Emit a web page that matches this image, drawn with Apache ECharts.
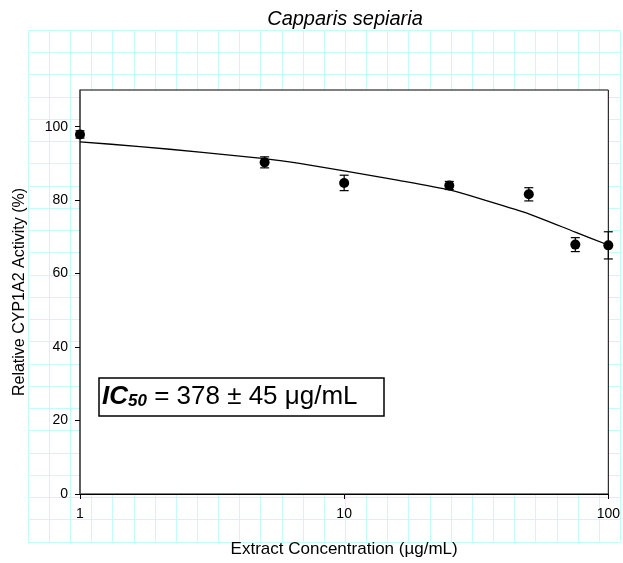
<!DOCTYPE html>
<html>
<head>
<meta charset="utf-8">
<script src="https://cdn.jsdelivr.net/npm/echarts@6/dist/echarts.min.js"></script>
<style>html,body{margin:0;padding:0;background:#fff}#c{width:623px;height:563px}</style>
</head>
<body>
<div id="c"></div>
<script>
// Measured data (concentration in µg/mL, activity in %)
var concentrations = [1, 5, 10, 25, 50, 75, 100];
var activity = [97.9, 90.3, 84.7, 84.0, 81.6, 67.9, 67.7];
var errors = [1.0, 1.5, 2.1, 1.1, 1.8, 1.9, 3.7];
// Fitted curve
var fitConc = [1, 1.685, 2.84, 5, 6.77, 10, 16.1, 25, 35.3, 50, 75, 100];
var fitActivity = [95.9, 94.6, 93.1, 91.3, 90.0, 88.0, 85.4, 82.8, 79.7, 76.3, 71.3, 67.8];
var yTicks = [0, 20, 40, 60, 80, 100];
var xTicks = [1, 10, 100];

var FONT = 'Liberation Sans';
var chart = echarts.init(document.getElementById('c'), null, {renderer: 'canvas'});

var pts = concentrations.map(function (c, i) { return [c, activity[i]]; });
var errData = concentrations.map(function (c, i) { return [c, activity[i], errors[i]]; });
var fitData = fitConc.map(function (c, i) { return [c, fitActivity[i]]; });

var paperColor = '#c4fcfc';

chart.setOption({
  animation: false,
  backgroundColor: '#fff',
  title: [
    {
      text: 'Capparis sepiaria',
      left: 345, top: 9, textAlign: 'center', padding: 0,
      textStyle: {fontFamily: FONT, fontStyle: 'italic', fontWeight: 'normal', fontSize: 20, color: '#000'}
    },
    {
      text: '{a|IC}{b|50}{c| = 378 ± 45 μg/mL}',
      left: 99, top: 373, padding: [6, 27, 6, 3],
      borderColor: '#000', borderWidth: 1.5, backgroundColor: '#fff', z: 20,
      textStyle: {
        fontWeight: 'normal',
        rich: {
          a: {fontFamily: FONT, fontSize: 26, fontWeight: 'bold', fontStyle: 'italic', color: '#000', lineHeight: 31, verticalAlign: 'bottom'},
          b: {fontFamily: FONT, fontSize: 17, fontWeight: 'bold', fontStyle: 'italic', color: '#000', lineHeight: 24, verticalAlign: 'bottom'},
          c: {fontFamily: FONT, fontSize: 26, fontWeight: 'normal', fontStyle: 'normal', color: '#000', lineHeight: 31, verticalAlign: 'bottom'}
        }
      }
    }
  ],
  grid: [
    {left: 28, top: 30, width: 592.2, height: 511.75, show: false, z: 0},
    {left: 80, top: 90, right: 13, bottom: 69, show: true, backgroundColor: '#fff', borderColor: '#000', borderWidth: 1, z: 2}
  ],
  xAxis: [
    {
      type: 'value', gridIndex: 0, min: 0, max: 28, interval: 1, z: 0,
      axisLine: {show: false}, axisTick: {show: false}, axisLabel: {show: false},
      splitLine: {show: true, lineStyle: {color: paperColor, width: 1}}
    },
    {
      type: 'log', gridIndex: 1, logBase: 10, min: 1, max: 100, z: 3,
      name: 'Extract Concentration (µg/mL)', nameLocation: 'middle', nameGap: 47,
      nameTextStyle: {fontFamily: FONT, fontSize: 17, color: '#000'},
      axisLine: {show: true, lineStyle: {color: '#000', width: 1}},
      axisTick: {show: true, inside: false, length: 5, lineStyle: {color: '#000'}},
      minorTick: {show: false},
      axisLabel: {fontFamily: FONT, fontSize: 14, color: '#000', margin: 13,
        formatter: function (v) { return xTicks.indexOf(Math.round(v)) >= 0 ? String(Math.round(v)) : ''; }},
      splitLine: {show: false}
    }
  ],
  yAxis: [
    {
      type: 'value', gridIndex: 0, min: 0, max: 23, interval: 1, z: 0,
      axisLine: {show: false}, axisTick: {show: false}, axisLabel: {show: false},
      splitLine: {show: true, lineStyle: {color: paperColor, width: 1}}
    },
    {
      type: 'value', gridIndex: 1, min: 0, max: 110, interval: 20, z: 3,
      name: 'Relative CYP1A2 Activity (%)', nameLocation: 'middle', nameGap: 52,
      nameTextStyle: {fontFamily: FONT, fontSize: 16, color: '#000'},
      axisLine: {show: true, lineStyle: {color: '#555', width: 1.5}},
      axisTick: {show: true, inside: false, length: 5, lineStyle: {color: '#000'}},
      axisLabel: {fontFamily: FONT, fontSize: 14, color: '#000', margin: 12, showMaxLabel: false,
        formatter: function (v) { return yTicks.indexOf(v) >= 0 ? String(v) : ''; }},
      splitLine: {show: false}
    }
  ],
  series: [
    {
      type: 'line', xAxisIndex: 1, yAxisIndex: 1, data: fitData, smooth: 0.2,
      showSymbol: false, symbol: 'none', z: 10,
      lineStyle: {color: '#000', width: 1.3}
    },
    {
      type: 'custom', xAxisIndex: 1, yAxisIndex: 1, data: errData, z: 11,
      renderItem: function (params, api) {
        var x = api.value(0), y = api.value(1), e = api.value(2);
        var top = api.coord([x, y + e]);
        var bot = api.coord([x, y - e]);
        var w = 4.5;
        var st = {stroke: '#000', lineWidth: 1.2};
        return {
          type: 'group',
          children: [
            {type: 'line', shape: {x1: top[0], y1: top[1], x2: bot[0], y2: bot[1]}, style: st},
            {type: 'line', shape: {x1: top[0] - w, y1: top[1], x2: top[0] + w, y2: top[1]}, style: st},
            {type: 'line', shape: {x1: bot[0] - w, y1: bot[1], x2: bot[0] + w, y2: bot[1]}, style: st}
          ]
        };
      }
    },
    {
      type: 'scatter', xAxisIndex: 1, yAxisIndex: 1, data: pts, z: 12,
      symbol: 'circle', symbolSize: 10,
      itemStyle: {color: '#000', opacity: 1}
    }
  ]
});
</script>
</body>
</html>
